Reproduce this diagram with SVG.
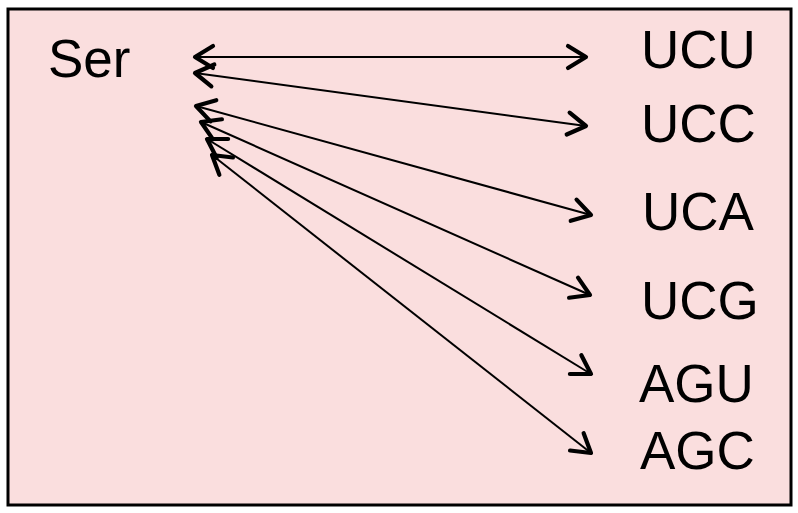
<svg xmlns="http://www.w3.org/2000/svg" width="798" height="513" viewBox="0 0 798 513">
<style>
.lbl{font-family:"Liberation Sans",Arial,sans-serif;font-size:53px;fill:#000}
.c{stroke:#000;stroke-width:2;fill:none;marker-start:url(#ah);marker-end:url(#ah)}
</style>
<defs>
<marker id="ah" markerUnits="userSpaceOnUse" viewBox="-22 -14 26 28" refX="0" refY="0" markerWidth="26" markerHeight="28" orient="auto-start-reverse">
<path d="M-18,-11 L0,0 L-18,11" fill="none" stroke="#000" stroke-width="4.2" stroke-linecap="round" stroke-linejoin="round"/>
</marker>
</defs>
<rect x="0" y="0" width="798" height="513" fill="#fff"/>
<rect x="8" y="9" width="783" height="496" fill="#FADEDE" stroke="#000" stroke-width="3"/>
<g id="ser"><text class="lbl" x="48" y="77">Ser</text></g>
<g id="ucu"><text class="lbl" x="641" y="68">UCU</text></g>
<g id="ucc"><text class="lbl" x="641" y="142">UCC</text></g>
<g id="uca"><text class="lbl" x="642" y="230">UCA</text></g>
<g id="ucg"><text class="lbl" x="641" y="319">UCG</text></g>
<g id="agu"><text class="lbl" x="639" y="402">AGU</text></g>
<g id="agc"><text class="lbl" x="640" y="469">AGC</text></g>
<g id="connectors">
<line class="c" x1="195" y1="57" x2="586" y2="57"/>
<line class="c" x1="195" y1="73" x2="586" y2="126"/>
<line class="c" x1="196" y1="106" x2="591" y2="215"/>
<line class="c" x1="201" y1="122" x2="590" y2="295"/>
<line class="c" x1="207" y1="139" x2="591" y2="374"/>
<line class="c" x1="212" y1="155" x2="591" y2="453"/>
</g>
</svg>
